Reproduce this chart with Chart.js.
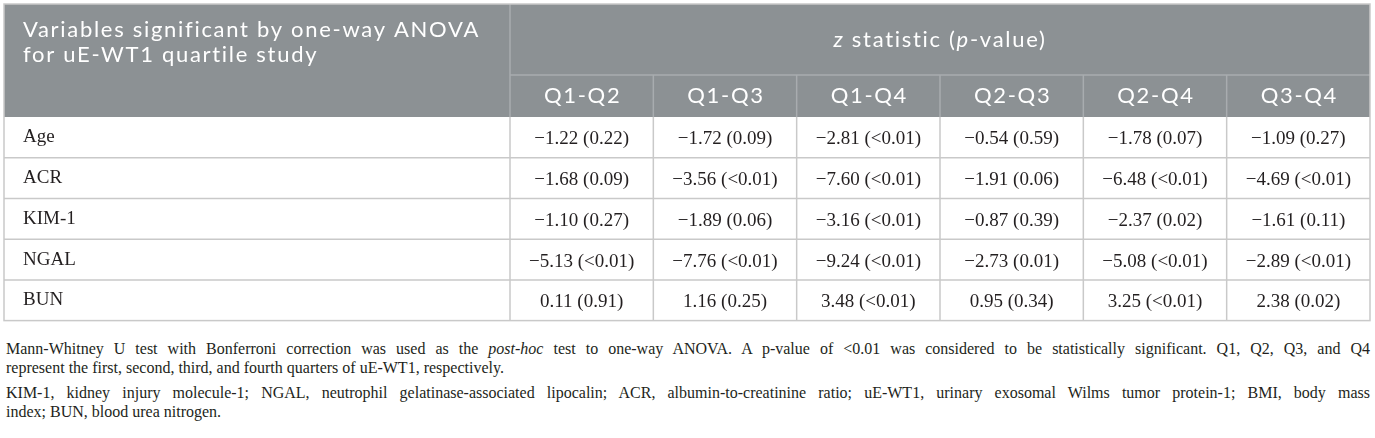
<!DOCTYPE html>
<html>
<head>
<meta charset="utf-8">
<script src="https://cdn.jsdelivr.net/npm/chart.js@4.4.0/dist/chart.umd.min.js"></script>
<style>
  body { margin: 0; background: #fff; }
  #wrap { position: absolute; left: 0; top: 0; width: 1375px; height: 335px; }
  #notes { position: absolute; left: 6px; top: 339px; width: 1364px;
           font-family: "Liberation Serif", serif; font-size: 16px; line-height: 19px; color: #231f20; }
  #notes .full { text-align: justify; text-align-last: justify; }
  #notes .para { margin-top: 6px; }
</style>
</head>
<body>
<div id="wrap"><canvas id="tableChart"></canvas></div>
<div id="notes">
  <div class="full">Mann-Whitney U test with Bonferroni correction was used as the <i>post-hoc</i> test to one-way ANOVA. A p-value of &lt;0.01 was considered to be statistically significant. Q1, Q2, Q3, and Q4</div>
  <div>represent the first, second, third, and fourth quarters of uE-WT1, respectively.</div>
  <div class="full para">KIM-1, kidney injury molecule-1; NGAL, neutrophil gelatinase-associated lipocalin; ACR, albumin-to-creatinine ratio; uE-WT1, urinary exosomal Wilms tumor protein-1; BMI, body mass</div>
  <div>index; BUN, blood urea nitrogen.</div>
</div>
<script>
// 列和行
const columns = ['Q1-Q2', 'Q1-Q3', 'Q1-Q4', 'Q2-Q3', 'Q2-Q4', 'Q3-Q4'];
const variables = ['Age', 'ACR', 'KIM-1', 'NGAL', 'BUN'];

// z statistic per variable
const zAge  = [-1.22, -1.72, -2.81, -0.54, -1.78, -1.09];
const zACR  = [-1.68, -3.56, -7.60, -1.91, -6.48, -4.69];
const zKIM1 = [-1.10, -1.89, -3.16, -0.87, -2.37, -1.61];
const zNGAL = [-5.13, -7.76, -9.24, -2.73, -5.08, -2.89];
const zBUN  = [0.11, 1.16, 3.48, 0.95, 3.25, 2.38];

// p-values per variable
const pAge  = ['0.22', '0.09', '<0.01', '0.59', '0.07', '0.27'];
const pACR  = ['0.09', '<0.01', '<0.01', '0.06', '<0.01', '<0.01'];
const pKIM1 = ['0.27', '0.06', '<0.01', '0.39', '0.02', '0.11'];
const pNGAL = ['<0.01', '<0.01', '<0.01', '0.01', '<0.01', '<0.01'];
const pBUN  = ['0.91', '0.25', '<0.01', '0.34', '<0.01', '0.02'];

const zRows = [zAge, zACR, zKIM1, zNGAL, zBUN];
const pRows = [pAge, pACR, pKIM1, pNGAL, pBUN];

const headFont = 'Lato';
const bodyFont = '"Liberation Serif"';
const headBg = '#8c9194';
const headLine = '#a8acaf';
const bodyLine = '#c9c9c9';
const TABLE_LEFT = 4;
const HEAD_SPLIT = 71;

function fmt(z) {
    return z.toFixed(2).replace('-', '\u2212');
}

// 表格背景、网格线和表头
const tableFrame = {
    id: 'tableFrame',
    beforeDraw(chart) {
        const { ctx, chartArea: a, scales: { x, y } } = chart;
        const top = x.top, split = top + HEAD_SPLIT;
        ctx.save();
        ctx.fillStyle = headBg;
        ctx.fillRect(TABLE_LEFT, top, a.right - TABLE_LEFT, a.top - top);

        ctx.lineWidth = 1.5;
        // header lines
        ctx.strokeStyle = headLine;
        ctx.beginPath();
        ctx.moveTo(a.left, top); ctx.lineTo(a.left, a.top);
        ctx.moveTo(a.left, split); ctx.lineTo(a.right, split);
        for (let i = 1; i < columns.length; i++) {
            const bx = (x.getPixelForValue(i - 1) + x.getPixelForValue(i)) / 2;
            ctx.moveTo(bx, split); ctx.lineTo(bx, a.top);
        }
        ctx.stroke();

        // body lines
        ctx.strokeStyle = bodyLine;
        ctx.beginPath();
        ctx.moveTo(a.left, a.top); ctx.lineTo(a.left, a.bottom);
        for (let i = 1; i < columns.length; i++) {
            const bx = (x.getPixelForValue(i - 1) + x.getPixelForValue(i)) / 2;
            ctx.moveTo(bx, a.top); ctx.lineTo(bx, a.bottom);
        }
        for (let i = 1; i < variables.length; i++) {
            const by = (y.getPixelForValue(i - 1) + y.getPixelForValue(i)) / 2;
            ctx.moveTo(TABLE_LEFT, by); ctx.lineTo(a.right, by);
        }
        ctx.stroke();

        // outer border
        ctx.strokeRect(TABLE_LEFT, top, a.right - TABLE_LEFT, a.bottom - top);

        // header text
        ctx.fillStyle = '#ffffff';
        ctx.textBaseline = 'alphabetic';
        ctx.textAlign = 'left';
        ctx.letterSpacing = '1.7px';
        ctx.font = '22px ' + headFont;
        ctx.fillText('Variables significant by one-way ANOVA', 23, top + 33);
        ctx.fillText('for uE-WT1 quartile study', 23, top + 58);

        const parts = [['z', true], [' statistic (', false], ['p', true], ['-value)', false]];
        const setFont = it => { ctx.font = (it ? 'italic ' : '') + '22px ' + headFont; };
        let w = 0;
        parts.forEach(([t, it]) => { setFont(it); w += ctx.measureText(t).width; });
        let px = (a.left + a.right) / 2 - w / 2;
        parts.forEach(([t, it]) => {
            setFont(it);
            ctx.fillText(t, px, top + 43);
            px += ctx.measureText(t).width;
        });

        // column headings from the x scale
        ctx.font = '22px ' + headFont;
        ctx.textAlign = 'center';
        columns.forEach((c, i) => {
            ctx.fillText(c, x.getPixelForValue(i) + 1, a.top - 14);
        });
        ctx.restore();
    }
};

// 单元格文字
const cellText = {
    id: 'cellText',
    afterDatasetsDraw(chart) {
        const ctx = chart.ctx;
        ctx.save();
        ctx.fillStyle = '#231f20';
        ctx.font = '19px ' + bodyFont;
        ctx.textAlign = 'center';
        ctx.textBaseline = 'middle';
        chart.data.datasets.forEach((ds, r) => {
            chart.getDatasetMeta(r).data.forEach((pt, i) => {
                const d = ds.data[i];
                ctx.fillText(fmt(d.z) + ' (' + d.p + ')', pt.x, pt.y + 2);
            });
        });
        ctx.restore();
    }
};

document.addEventListener('DOMContentLoaded', function() {
    const datasets = variables.map((v, r) => ({
        label: v,
        data: columns.map((c, i) => ({ x: c, y: v, z: zRows[r][i], p: pRows[r][i] })),
        pointRadius: 0,
        pointHoverRadius: 0
    }));

    new Chart(document.getElementById('tableChart'), {
        type: 'scatter',
        data: { datasets: datasets },
        options: {
            responsive: true,
            maintainAspectRatio: false,
            animation: false,
            events: [],
            layout: { padding: { left: 23, right: 5, top: 4, bottom: 4 } },
            plugins: { legend: { display: false }, tooltip: { enabled: false } },
            scales: {
                x: {
                    type: 'category',
                    labels: columns,
                    offset: true,
                    position: 'top',
                    grid: { display: false, drawTicks: false },
                    border: { display: false },
                    ticks: { display: false },
                    afterFit: s => { s.height = 113; }
                },
                y: {
                    type: 'category',
                    labels: variables,
                    offset: true,
                    position: 'left',
                    grid: { display: false, drawTicks: false },
                    border: { display: false },
                    ticks: { color: '#231f20', font: { family: bodyFont, size: 19 }, crossAlign: 'far' },
                    afterFit: s => { s.width = 487; }
                }
            }
        },
        plugins: [tableFrame, cellText]
    });
});
</script>
</body>
</html>
